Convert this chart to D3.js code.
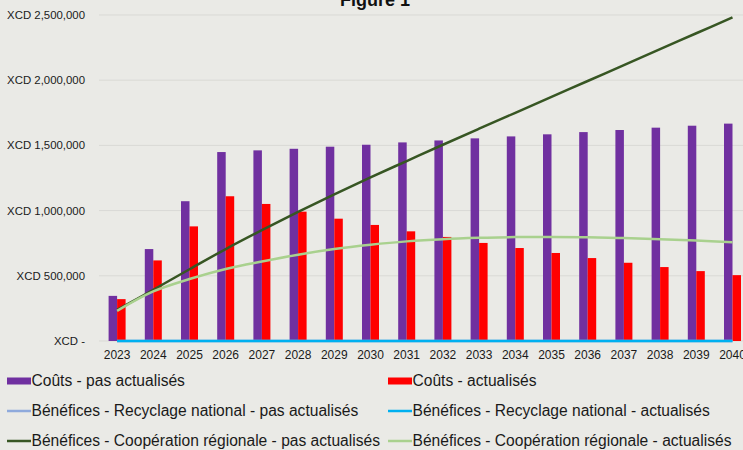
<!DOCTYPE html>
<html>
<head>
<meta charset="utf-8">
<script src="https://cdn.jsdelivr.net/npm/d3@7"></script>
<style>
  body { margin: 0; background: #eaeae6; }
  svg { display: block; font-family: "Liberation Sans", Arial, sans-serif; }
</style>
</head>
<body>
<svg id="chart" width="743" height="450"></svg>
<script>
const years = ['2023','2024','2025','2026','2027','2028','2029','2030','2031','2032','2033','2034','2035','2036','2037','2038','2039','2040'];
const coutsPas = [346000, 705000, 1072000, 1449000, 1462000, 1474000, 1490000, 1505000, 1523000, 1538000, 1554000, 1569000, 1585000, 1602000, 1618000, 1636000, 1651000, 1667000];
const coutsAct = [321000, 618000, 879000, 1110000, 1051000, 992000, 938000, 890000, 841000, 798000, 752000, 713000, 675000, 636000, 600000, 567000, 536000, 505000];
const recyPas = [0,0,0,0,0,0,0,0,0,0,0,0,0,0,0,0,0,0];
const recyAct = [0,0,0,0,0,0,0,0,0,0,0,0,0,0,0,0,0,0];
const coopPas = [238000, 393000, 550000, 705000, 850000, 990000, 1125000, 1255000, 1380000, 1505000, 1628000, 1750000, 1872000, 1994000, 2116000, 2238000, 2360000, 2482000];
const coopAct = [231000, 380000, 475000, 552000, 610000, 662000, 705000, 738000, 764000, 781000, 791000, 797000, 798000, 795000, 789000, 781000, 770000, 757000];
const yTicks = [0, 500000, 1000000, 1500000, 2000000, 2500000];

const svg = d3.select('#chart');

const x = d3.scaleBand().domain(years).range([99, 750.6]);
const y = d3.scaleLinear().domain([0, 2500000]).range([341, 15]);
const cx = d => x(d) + x.bandwidth() / 2;
const barW = 8.5;

//gridlines
svg.append('g').selectAll('line')
  .data(yTicks)
  .join('line')
  .attr('x1', 99).attr('x2', 750)
  .attr('y1', d => y(d)).attr('y2', d => y(d))
  .attr('stroke', '#d9d9d5').attr('stroke-width', 1);

//y labels
const fmt = d3.format(',');
svg.append('g').selectAll('text')
  .data(yTicks)
  .join('text')
  .attr('x', 85).attr('y', d => y(d))
  .attr('dy', '0.35em')
  .attr('text-anchor', 'end')
  .attr('font-size', 11.4)
  .attr('fill', '#1a1a1a')
  .text(d => d === 0 ? 'XCD -' : 'XCD ' + fmt(d));

//x labels
svg.append('g').selectAll('text')
  .data(years)
  .join('text')
  .attr('x', d => cx(d)).attr('y', 355)
  .attr('dy', '0.35em')
  .attr('text-anchor', 'middle')
  .attr('font-size', 12)
  .attr('fill', '#1a1a1a')
  .text(d => d);

//bars
svg.append('g').selectAll('rect')
  .data(years)
  .join('rect')
  .attr('x', d => cx(d) - barW)
  .attr('y', (d, i) => y(coutsPas[i]))
  .attr('width', barW)
  .attr('height', (d, i) => y(0) - y(coutsPas[i]))
  .attr('fill', '#7030a0');

svg.append('g').selectAll('rect')
  .data(years)
  .join('rect')
  .attr('x', d => cx(d))
  .attr('y', (d, i) => y(coutsAct[i]))
  .attr('width', barW)
  .attr('height', (d, i) => y(0) - y(coutsAct[i]))
  .attr('fill', '#ff0000');

//lines
const line = d3.line()
  .x((d, i) => cx(years[i]))
  .y(d => y(d))
  .curve(d3.curveCatmullRom);

const series = [
  {vals: recyPas, color: '#8faadc'},
  {vals: recyAct, color: '#00b0f0'},
  {vals: coopPas, color: '#375623'},
  {vals: coopAct, color: '#a9d18e'}
];
svg.append('g').selectAll('path')
  .data(series)
  .join('path')
  .attr('d', s => line(s.vals))
  .attr('fill', 'none')
  .attr('stroke', s => s.color)
  .attr('stroke-width', 2.5);

//title
svg.append('text')
  .attr('x', 375).attr('y', 6)
  .attr('text-anchor', 'middle')
  .attr('font-size', 18)
  .attr('font-weight', 'bold')
  .attr('fill', '#111')
  .text('Figure 1');

//legend
const legend = [
  {label: 'Coûts - pas actualisés', color: '#7030a0', type: 'bar', lx: 7, ly: 381},
  {label: 'Coûts - actualisés', color: '#ff0000', type: 'bar', lx: 388, ly: 381},
  {label: 'Bénéfices - Recyclage national - pas actualisés', color: '#8faadc', type: 'line', lx: 7, ly: 411},
  {label: 'Bénéfices - Recyclage national - actualisés', color: '#00b0f0', type: 'line', lx: 388, ly: 411},
  {label: 'Bénéfices - Coopération régionale - pas actualisés', color: '#375623', type: 'line', lx: 7, ly: 441},
  {label: 'Bénéfices - Coopération régionale - actualisés', color: '#a9d18e', type: 'line', lx: 388, ly: 441}
];
const lg = svg.append('g').selectAll('g')
  .data(legend)
  .join('g')
  .attr('transform', d => `translate(${d.lx},${d.ly})`);

lg.filter(d => d.type === 'bar').append('rect')
  .attr('x', 0).attr('y', -3.5).attr('width', 24).attr('height', 7)
  .attr('fill', d => d.color);
lg.filter(d => d.type === 'line').append('line')
  .attr('x1', 0).attr('x2', 24).attr('y1', 0).attr('y2', 0)
  .attr('stroke', d => d.color).attr('stroke-width', 2.5);
lg.append('text')
  .attr('x', 24.5).attr('dy', '0.35em')
  .attr('font-size', 15.6)
  .attr('fill', '#1a1a1a')
  .text(d => d.label);
</script>
</body>
</html>
